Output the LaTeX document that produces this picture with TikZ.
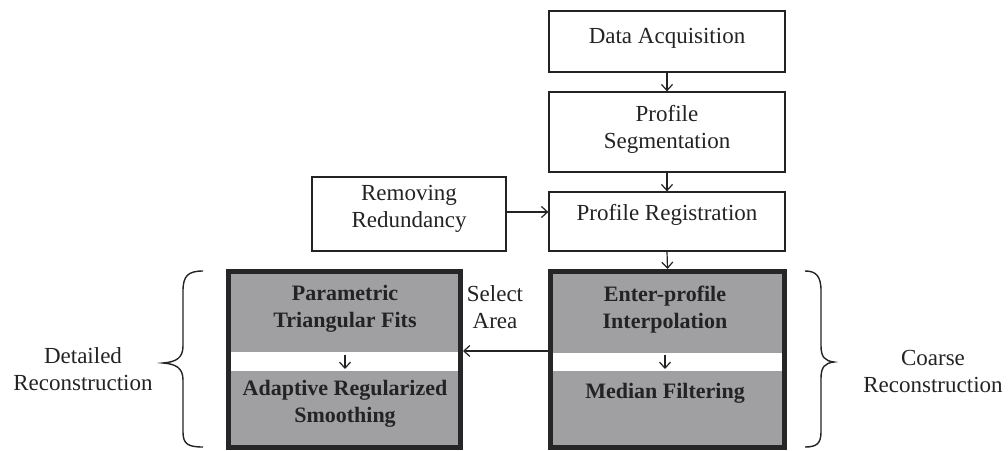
\documentclass[tikz,border=0pt]{standalone}
\usepackage{fontspec}
\setmainfont{Liberation Serif}
\usetikzlibrary{arrows.meta}
\definecolor{boxgray}{RGB}{160,160,162}
\definecolor{ink}{RGB}{35,35,35}
\begin{document}
\begin{tikzpicture}[x=1pt,y=-1pt,
  lightbox/.style={draw=ink, line width=1.3pt, rectangle, inner sep=0pt},
  darkbox/.style={draw=black!85, fill=boxgray, line width=5pt, rectangle, inner sep=0pt},
  txt/.style={font=\fontsize{23}{27}\selectfont, text=ink, align=center, inner sep=0pt},
  btxt/.style={font=\fontsize{22}{27}\selectfont\bfseries, text=ink, align=center, inner sep=0pt},
  arr/.style={-{Straight Barb[length=6pt,width=11pt]}, draw=ink, line width=1.2pt},
  bracestyle/.style={draw=ink, line width=1.4pt}]
\useasboundingbox (0,0) rectangle (1008,450);

% top boxes
\node[lightbox, minimum width=236pt, minimum height=61pt] (da) at (667,41.5) {};
\node[txt] (dat) at (667,38) {Data Acquisition};
\node[lightbox, minimum width=236pt, minimum height=80pt] (ps) at (667,132) {};
\node[txt] (pst) at (667,129) {Profile\\Segmentation};
\node[lightbox, minimum width=236pt, minimum height=59pt] (pr) at (667,221.5) {};
\node[txt] (prt) at (667,215) {Profile Registration};
\node[lightbox, minimum width=194pt, minimum height=74pt] (rr) at (409,214) {};
\node[txt] (rrt) at (409,209) {Removing\\Redundancy};

% dark boxes
\node[darkbox, minimum width=232pt, minimum height=176pt] (pl) at (344.5,359.5) {};
\fill[white] (231,352) rectangle (458,371);
\node[darkbox, minimum width=234pt, minimum height=176pt] (er) at (667.5,359.5) {};
\fill[white] (553,353) rectangle (782,371);

\node[btxt] (ptf) at (345,308.5) {Parametric\\Triangular Fits};
\node[btxt] (ars) at (345,404) {Adaptive Regularized\\Smoothing};
\node[btxt] (epi) at (665,309.5) {Enter-profile\\Interpolation};
\node[btxt] (mf) at (665,393) {Median Filtering};

\node[txt] (sa) at (495,307) {Select\\Area};
\node[txt] (dr) at (83,369) {Detailed\\Reconstruction};
\node[txt] (cr) at (933,371) {Coarse\\Reconstruction};

% connectors
\coordinate (ya) at (0,212);
\coordinate (yb) at (0,351);
\coordinate (la1) at (345,355);
\coordinate (la2) at (345,369);
\coordinate (ra1) at (665,355);
\coordinate (ra2) at (665,369);
\draw[arr] (da.south) -- (ps.north);
\draw[arr] (ps.south) -- (pr.north);
\draw[arr] (pr.south) -- (er.north);
\draw[arr] (rr.east |- ya) -- (pr.west |- ya);
\draw[arr] (er.west |- yb) -- (pl.east |- yb);
\draw[arr] (la1) -- (la2);
\draw[arr] (ra1) -- (ra2);

% braces
\draw[bracestyle] (203,271) .. controls (188,271) and (183,276) .. (183,291)
  -- (183,346) .. controls (183,358) and (176,362) .. (163,363)
  .. controls (176,364) and (183,368) .. (183,380)
  -- (183,432) .. controls (183,444) and (188,447) .. (203,447);
\draw[bracestyle] (805,271) .. controls (816,271) and (821,276) .. (821,291)
  -- (821,346) .. controls (821,357) and (825,361) .. (834,362)
  .. controls (825,363) and (821,367) .. (821,378)
  -- (821,432) .. controls (821,444) and (816,447) .. (805,447);
\end{tikzpicture}
\end{document}
